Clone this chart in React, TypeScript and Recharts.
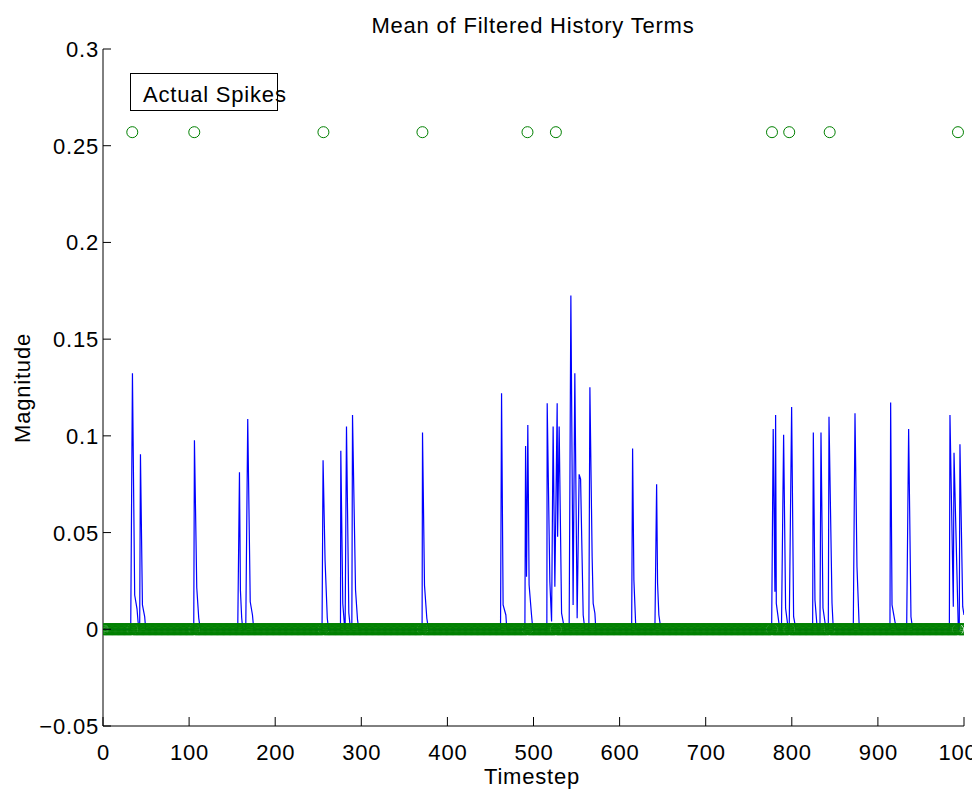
import { ComposedChart, Line, Scatter, XAxis, YAxis } from 'recharts';

// mean of filtered history terms, vertices
const historyT = [
  0,
  32.2, 34.2, 36.8, 39.5, 40.7, 42,
  42.6, 43.5, 45.8, 48.4, 49.6,
  105.4, 106.2, 108.9, 111.2, 113,
  156.5, 158.5, 159.6, 161.1, 162.3,
  165.8, 168.1, 171, 173.6, 175.1,
  254.4, 255.6, 257.9, 260.5, 261.9,
  275.8, 276.2, 278.5, 280.8,
  281.2, 282.8, 285.5, 287.4,
  289, 289.8, 293.3, 295.6, 297.1,
  370.6, 371.1, 373.4, 376.1, 378.1,
  461.7, 462.9, 464, 464.7, 467.9, 469,
  490, 490.8, 491.9, 493.4, 494.9, 497.7, 499.2,
  515.5, 515.9, 519, 521,
  522.8, 524.8,
  527.5, 528,
  529.8, 532.6, 534.4, 536,
  541.4, 543.4, 546,
  548, 550.7,
  553, 554.7, 557.7, 559.6,
  564.3, 565.5, 568.1, 569.3, 571.3, 572.4,
  614, 615.1, 616.6, 618.9,
  641, 643, 644.1, 645.6, 648,
  776.6, 778.4, 780.4,
  781.2, 782, 786,
  788, 790.5, 792.8, 795.9,
  797, 799.8, 802.1, 804.8,
  824.2, 825, 826.9, 829.6,
  832.7, 833.9, 836.2, 839.7,
  842.4, 843.2, 846.7, 848.2,
  871.4, 873.4, 875.7, 878.4,
  914, 914.8, 916.4, 919.8, 921.8,
  933.4, 935.7, 938.4, 940.4,
  983, 983.7, 987.6,
  988.4, 993.4,
  994.5, 995.3, 998.5, 1000,
];

const historyV = [
  0,
  0, 0.1324, 0.0177, 0.0106, 0.004, 0,
  0, 0.0905, 0.0126, 0.0066, 0,
  0, 0.0977, 0.0215, 0.0058, 0,
  0, 0.0812, 0.0202, 0.0058, 0,
  0, 0.1087, 0.0142, 0.0074, 0,
  0, 0.0874, 0.0358, 0.0057, 0,
  0, 0.0923, 0.0133, 0,
  0, 0.1048, 0.0085, 0,
  0, 0.1108, 0.0203, 0.005, 0,
  0, 0.1017, 0.0227, 0.0057, 0,
  0, 0.122, 0.0548, 0.0126, 0.0074, 0,
  0, 0.0948, 0.0272, 0.1056, 0.0229, 0.0074, 0,
  0, 0.1169, 0.0246, 0.004,
  0.1048, 0.022,
  0.1169, 0.0479,
  0.1048, 0.0083, 0.004, 0,
  0, 0.1725, 0.0126,
  0.1324, 0.0057,
  0.0801, 0.0777, 0.0074, 0,
  0, 0.1251, 0.0375, 0.0134, 0.0083, 0,
  0, 0.0934, 0.0255, 0,
  0, 0.075, 0.0238, 0.0074, 0,
  0, 0.1036, 0.0194,
  0.1108, 0.0134, 0,
  0, 0.1006, 0.0109, 0,
  0, 0.1149, 0.0065, 0,
  0, 0.1017, 0.0151, 0,
  0, 0.1017, 0.011, 0,
  0, 0.1099, 0.0136, 0,
  0, 0.1117, 0.0324, 0,
  0, 0.1172, 0.0126, 0.004, 0,
  0, 0.1036, 0.0065, 0,
  0, 0.1108, 0.0117,
  0.0913, 0,
  0, 0.0957, 0.0117, 0.0074,
];

// actual spikes: marked high at these timesteps, zero everywhere else
const spikeTimes = [34, 106, 256, 371, 493, 526, 777, 797, 844, 993];
const spikeLevel = 0.257;
const timestepCount = 1000;

const xTicks = [0, 100, 200, 300, 400, 500, 600, 700, 800, 900, 1000];
const yTicks = [-0.05, 0, 0.05, 0.1, 0.15, 0.2, 0.25, 0.3];

const FONT = '"Liberation Sans", Arial, Helvetica, sans-serif';
const SPACING = 0.8;

const historyData = historyT.map((t, i) => ({ t, v: historyV[i] }));
const spikeHigh = spikeTimes.map((t) => ({ t, v: spikeLevel }));
const spikeZero = Array.from({ length: timestepCount }, (_, i) => i + 1)
  .filter((t) => !spikeTimes.includes(t))
  .map((t) => ({ t, v: 0 }));

const fmtY = (v: number) => {
  const s = String(Number(v.toFixed(2)));
  return v < 0 ? '\u2212' + s.slice(1) : s;
};

const YTick = ({ x, y, payload }: any) => (
  <g>
    <line x1={x} y1={y} x2={x + 8} y2={y} stroke="#000" />
    <text x={x - 4} y={y + 8} textAnchor="end" fontSize={22} letterSpacing={SPACING} fontFamily={FONT} fill="#000">
      {fmtY(payload.value)}
    </text>
  </g>
);

const XTick = ({ x, y, payload }: any) => (
  <g>
    <line x1={x} y1={y} x2={x} y2={y - 9} stroke="#000" />
    <text x={x + 0.5} y={y + 34} textAnchor="middle" fontSize={22} letterSpacing={SPACING} fontFamily={FONT} fill="#000">
      {payload.value}
    </text>
  </g>
);

const ring = (p: any) => (
  <circle cx={p.cx} cy={p.cy} r={5.5} fill="none" stroke="#008000" strokeWidth={1} />
);

export default function App() {
  return (
    <div style={{ position: 'absolute', left: 0, top: 0, width: 972, height: 796, background: '#fff' }}>
      <ComposedChart
        width={972}
        height={796}
        margin={{ top: 49, right: 8, bottom: 40, left: 0 }}
      >
        <XAxis
          type="number"
          dataKey="t"
          domain={[0, 1000]}
          ticks={xTicks}
          allowDataOverflow
          height={30}
          tickSize={0}
          tickMargin={0}
          tickLine={false}
          axisLine={{ stroke: '#000' }}
          tick={<XTick />}
          interval={0}
        />
        <YAxis
          type="number"
          dataKey="v"
          domain={[-0.05, 0.3]}
          ticks={yTicks}
          allowDataOverflow
          width={103}
          tickSize={0}
          tickMargin={0}
          tickLine={false}
          axisLine={{ stroke: '#000' }}
          tick={<YTick />}
          interval={0}
        />
        <Line
          data={historyData}
          dataKey="v"
          type="linear"
          stroke="#0000ff"
          strokeWidth={1.2}
          dot={false}
          activeDot={false}
          isAnimationActive={false}
        />
        <Scatter data={spikeZero} dataKey="v" shape={ring} isAnimationActive={false} />
        <Scatter data={spikeHigh} dataKey="v" shape={ring} isAnimationActive={false} />
      </ComposedChart>
      <svg
        width={972}
        height={796}
        style={{ position: 'absolute', left: 0, top: 0, pointerEvents: 'none' }}
      >
        <text x={533} y={33} textAnchor="middle" fontSize={22} letterSpacing={SPACING} fontFamily={FONT} fill="#000">
          Mean of Filtered History Terms
        </text>
        <text x={532} y={784} textAnchor="middle" fontSize={22} letterSpacing={SPACING} fontFamily={FONT} fill="#000">
          Timestep
        </text>
        <text
          x={0}
          y={0}
          transform="translate(30 388) rotate(-90)"
          textAnchor="middle"
          fontSize={22}
          letterSpacing={SPACING}
          fontFamily={FONT}
          fill="#000"
        >
          Magnitude
        </text>
        <rect x={130.5} y={73.5} width={147} height={37} fill="#fff" stroke="#000" />
        <text x={143} y={101.5} fontSize={22} letterSpacing={SPACING} fontFamily={FONT} fill="#000">
          Actual Spikes
        </text>
      </svg>
    </div>
  );
}
